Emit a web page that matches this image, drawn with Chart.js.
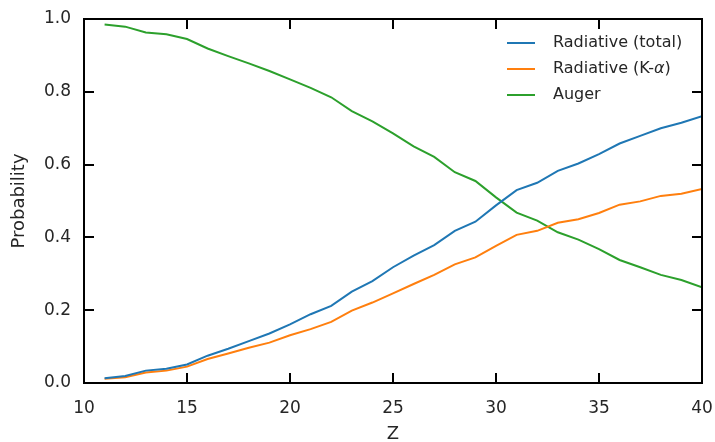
<!DOCTYPE html>
<html>
<head>
<meta charset="utf-8">
<script src="https://cdn.jsdelivr.net/npm/chart.js@4/dist/chart.umd.min.js"></script>
<style>
  html, body { margin: 0; padding: 0; background: #fff; }
  #wrap { position: relative; width: 715px; height: 442px; }
</style>
</head>
<body>
<div id="wrap"><canvas id="chart"></canvas></div>
<script>
// atomic number Z and the three probabilities
const zValues = [11, 12, 13, 14, 15, 16, 17, 18, 19, 20, 21, 22, 23, 24, 25,
                 26, 27, 28, 29, 30, 31, 32, 33, 34, 35, 36, 37, 38, 39, 40];
const radiativeTotal = [0.013, 0.019, 0.034, 0.039, 0.051, 0.075, 0.094, 0.115, 0.136, 0.161,
                        0.189, 0.212, 0.251, 0.280, 0.318, 0.350, 0.379, 0.418, 0.443, 0.488,
                        0.530, 0.550, 0.583, 0.603, 0.629, 0.658, 0.679, 0.700, 0.715, 0.733];
const radiativeKa = [0.012, 0.016, 0.029, 0.034, 0.045, 0.066, 0.081, 0.097, 0.111, 0.131,
                     0.148, 0.168, 0.199, 0.221, 0.246, 0.272, 0.297, 0.326, 0.345, 0.377,
                     0.407, 0.418, 0.440, 0.450, 0.467, 0.490, 0.499, 0.514, 0.520, 0.533];
const auger = [0.985, 0.979, 0.963, 0.958, 0.945, 0.919, 0.898, 0.878, 0.857, 0.834,
               0.811, 0.785, 0.747, 0.719, 0.686, 0.650, 0.621, 0.579, 0.555, 0.510,
               0.468, 0.446, 0.414, 0.394, 0.368, 0.338, 0.318, 0.297, 0.283, 0.263];
const xTicks = [10, 15, 20, 25, 30, 35, 40];
const yTicks = [0.0, 0.2, 0.4, 0.6, 0.8, 1.0];

const textColor = '#262626';
const frameColor = '#000000';
const font = 'DejaVu Sans';

function toPoints(ys) {
  return zValues.map((z, i) => ({ x: z, y: ys[i] }));
}

// frame + inward ticks on all four sides, filled as 2px rectangles
const framePlugin = {
  id: 'boxFrame',
  afterDraw(chart) {
    const { ctx, chartArea: a, scales } = chart;
    const w = 2, tick = 10;
    const L = Math.round(a.left), R = Math.round(a.right);
    const T = Math.round(a.top), B = Math.round(a.bottom);
    ctx.save();
    ctx.fillStyle = frameColor;
    ctx.fillRect(L - 1, T - 1, R - L + 2, w);
    ctx.fillRect(L - 1, B - 1, R - L + 2, w);
    ctx.fillRect(L - 1, T - 1, w, B - T + 2);
    ctx.fillRect(R - 1, T - 1, w, B - T + 2);
    xTicks.forEach(v => {
      const px = Math.round(scales.x.getPixelForValue(v)) - 1;
      ctx.fillRect(px, B - tick, w, tick);
      ctx.fillRect(px, T, w, tick);
    });
    yTicks.forEach(v => {
      const py = Math.round(scales.y.getPixelForValue(v)) - 1;
      ctx.fillRect(L, py, tick, w);
      ctx.fillRect(R - tick, py, tick, w);
    });
    ctx.restore();
  }
};

// legend in the upper right corner, no frame
const legendPlugin = {
  id: 'cornerLegend',
  afterDraw(chart) {
    const { ctx, chartArea: a } = chart;
    const x0 = a.right - 195, lineLen = 28, gap = 18, rowH = 26, y0 = a.top + 24;
    ctx.save();
    ctx.textBaseline = 'middle';
    chart.data.datasets.forEach((ds, i) => {
      const y = y0 + i * rowH;
      ctx.strokeStyle = ds.borderColor;
      ctx.lineWidth = 2;
      ctx.beginPath();
      ctx.moveTo(x0, y); ctx.lineTo(x0 + lineLen, y);
      ctx.stroke();
      ctx.fillStyle = textColor;
      let tx = x0 + lineLen + gap;
      // the alpha is drawn in italic, as mathtext does
      ds.label.split(/(α)/).forEach(p => {
        if (!p) return;
        ctx.font = (p === 'α' ? 'italic ' : '') + '16px "' + font + '"';
        ctx.fillText(p, tx, y);
        tx += ctx.measureText(p).width;
      });
    });
    ctx.restore();
  }
};

new Chart(document.getElementById('chart'), {
  type: 'line',
  data: {
    datasets: [
      { label: 'Radiative (total)', data: toPoints(radiativeTotal), borderColor: '#1f77b4' },
      { label: 'Radiative (K-α)', data: toPoints(radiativeKa), borderColor: '#ff7f0e' },
      { label: 'Auger', data: toPoints(auger), borderColor: '#2ca02c' },
    ],
  },
  options: {
    responsive: true,
    maintainAspectRatio: false,
    animation: false,
    layout: { padding: { top: 19, right: 13, bottom: 0, left: 0 } },
    elements: {
      line: { borderWidth: 2, tension: 0, fill: false },
      point: { radius: 0, hoverRadius: 0 },
    },
    scales: {
      x: {
        type: 'linear',
        min: 10,
        max: 40,
        afterFit: s => { s.height = 59; s.paddingLeft = 0; s.paddingRight = 0; },
        afterBuildTicks: s => { s.ticks = xTicks.map(v => ({ value: v })); },
        grid: { display: false, drawTicks: false },
        border: { display: false },
        ticks: {
          padding: 15,
          color: textColor,
          font: { family: font, size: 17 },
          maxRotation: 0,
        },
        title: {
          display: true,
          text: 'Z',
          color: textColor,
          font: { family: font, size: 18 },
          padding: { top: 0, bottom: -3 },
        },
      },
      y: {
        min: 0,
        max: 1,
        afterFit: s => { s.width = 84; s.paddingTop = 0; s.paddingBottom = 0; },
        afterBuildTicks: s => { s.ticks = yTicks.map(v => ({ value: v })); },
        grid: { display: false, drawTicks: false },
        border: { display: false },
        ticks: {
          padding: 13,
          color: textColor,
          font: { family: font, size: 17 },
          callback: v => v.toFixed(1),
        },
        title: {
          display: true,
          text: 'Probability',
          color: textColor,
          font: { family: font, size: 18 },
          padding: { top: 9, bottom: 0 },
        },
      },
    },
    plugins: {
      legend: { display: false },
      tooltip: { enabled: false },
    },
  },
  plugins: [framePlugin, legendPlugin],
});
</script>
</body>
</html>
